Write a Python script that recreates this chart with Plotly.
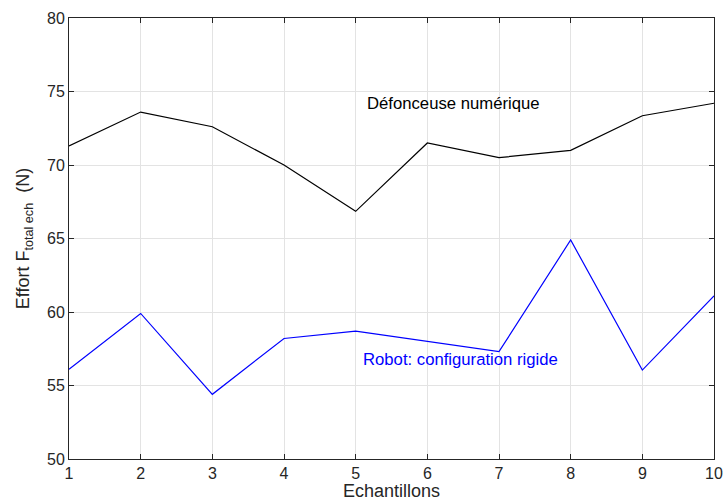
import plotly.graph_objects as go

echantillons = [1, 2, 3, 4, 5, 6, 7, 8, 9, 10]
defonceuse = [71.3, 73.6, 72.6, 70.0, 66.85, 71.5, 70.5, 71.0, 73.35, 74.2]
robot = [56.1, 59.9, 54.4, 58.2, 58.7, 58.0, 57.3, 64.9, 56.05, 61.1]

fig = go.Figure()
fig.add_trace(go.Scatter(x=echantillons, y=defonceuse, mode="lines",
                         line=dict(color="black", width=1.2), showlegend=False))
fig.add_trace(go.Scatter(x=echantillons, y=robot, mode="lines",
                         line=dict(color="blue", width=1.2), showlegend=False))

fig.add_annotation(x=5.13, y=74.15, text="Défonceuse numérique", showarrow=False,
                   xanchor="left", yanchor="middle", font=dict(color="black", size=16.7))
fig.add_annotation(x=5.07, y=56.75, text="Robot: configuration rigide", showarrow=False,
                   xanchor="left", yanchor="middle", font=dict(color="blue", size=16.7))

axis_common = dict(showline=True, linecolor="#262626", linewidth=1, mirror="ticks",
                   ticks="inside", ticklen=5, tickcolor="#262626",
                   showgrid=True, gridcolor="#e3e3e3", gridwidth=1, zeroline=False,
                   automargin=False,
                   tickfont=dict(size=16, color="#262626"))

fig.update_xaxes(range=[1, 10], dtick=1, title=dict(text="Echantillons", standoff=3,
                 font=dict(size=18, color="#262626")), **axis_common)
fig.update_yaxes(range=[50, 80], dtick=5, title=dict(text="Effort F<sub>total ech</sub>  (N)", standoff=12,
                 font=dict(size=18, color="#262626")), **axis_common)

fig.update_layout(width=725, height=501, margin=dict(l=69, r=11, t=18, b=42),
                  plot_bgcolor="white", paper_bgcolor="white",
                  font=dict(family="Liberation Sans, Arial, sans-serif"))

fig.write_html("out.html", config={"displayModeBar": False},
               post_script="document.body.style.margin='0';document.body.style.overflow='hidden';")
